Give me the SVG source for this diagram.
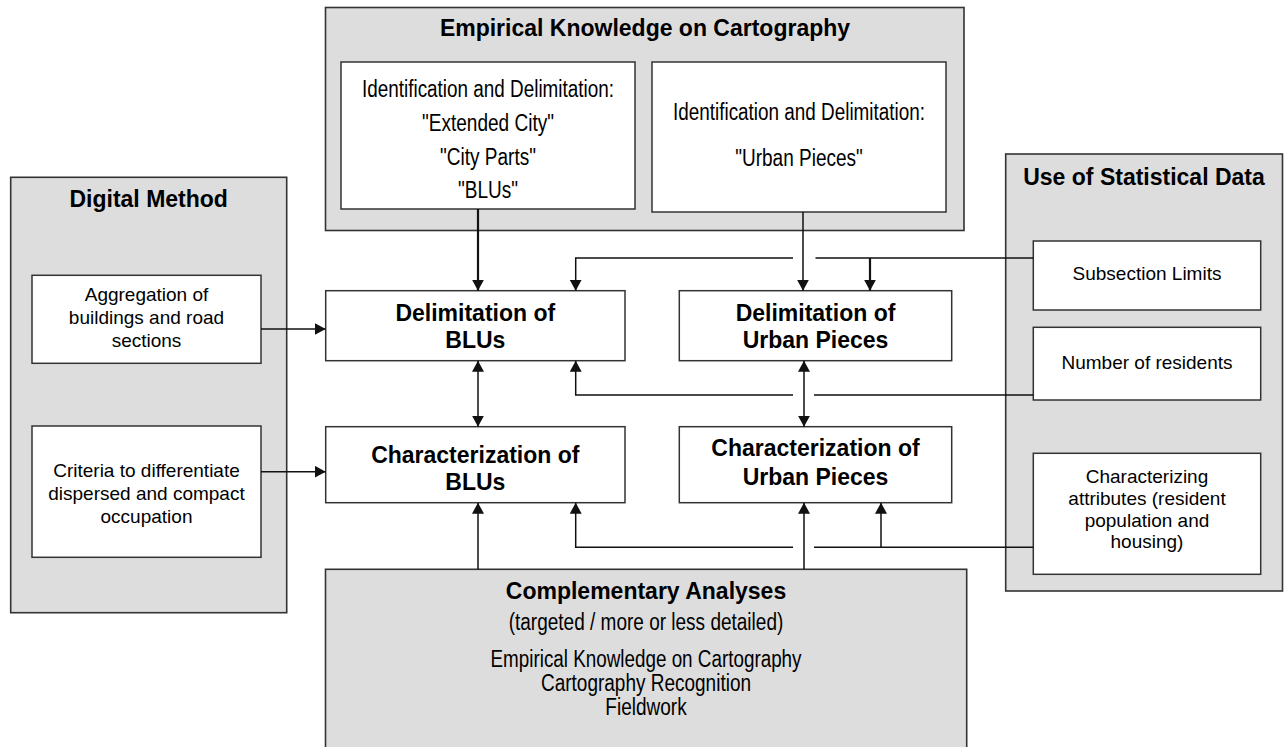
<svg xmlns="http://www.w3.org/2000/svg" width="1284" height="747" viewBox="0 0 1284 747">
<style>
  .gray{fill:#dddddd;stroke:#333;stroke-width:1.6}
  .box{fill:#ffffff;stroke:#333;stroke-width:1.5}
  text{font-family:"Liberation Sans",Arial,sans-serif;fill:#000;text-anchor:middle}
  .b{font-weight:bold;font-size:23px}
  .r{font-size:19px}
  .c{font-size:23px}
  .conn{fill:none;stroke:#111;stroke-width:1.5}
  .thick{stroke-width:2.2}
</style>
<defs>
  <marker id="ah" markerUnits="userSpaceOnUse" markerWidth="12" markerHeight="12" refX="11" refY="6" orient="auto-start-reverse" viewBox="0 0 12 12">
    <path d="M0,0 L11,6 L0,12 z" fill="#111"/>
  </marker>
</defs>
<rect width="1284" height="747" fill="#ffffff"/>

<g id="empirical">
  <rect class="gray" x="325.5" y="7.5" width="638.5" height="223"/>
  <text class="b" x="645" y="36">Empirical Knowledge on Cartography</text>
</g>
<g id="id-blus">
  <rect class="box" x="341" y="62" width="294" height="147"/>
  <text class="c" x="488" y="97" textLength="252" lengthAdjust="spacingAndGlyphs">Identification and Delimitation:</text>
  <text class="c" x="488" y="131" textLength="132" lengthAdjust="spacingAndGlyphs">"Extended City"</text>
  <text class="c" x="488" y="165" textLength="96" lengthAdjust="spacingAndGlyphs">"City Parts"</text>
  <text class="c" x="488" y="198" textLength="60" lengthAdjust="spacingAndGlyphs">"BLUs"</text>
</g>
<g id="id-urban">
  <rect class="box" x="652" y="62" width="294" height="150"/>
  <text class="c" x="799" y="120" textLength="252" lengthAdjust="spacingAndGlyphs">Identification and Delimitation:</text>
  <text class="c" x="799" y="166" textLength="127.5" lengthAdjust="spacingAndGlyphs">"Urban Pieces"</text>
</g>

<g id="digital">
  <rect class="gray" x="10.7" y="177.3" width="276" height="435.4"/>
  <text class="b" x="148.7" y="207">Digital Method</text>
</g>
<g id="aggregation">
  <rect class="box" x="32" y="275.3" width="229" height="88"/>
  <text class="r" x="146.5" y="301">Aggregation of</text>
  <text class="r" x="146.5" y="324">buildings and road</text>
  <text class="r" x="146.5" y="347">sections</text>
</g>
<g id="criteria">
  <rect class="box" x="32" y="426" width="229" height="131.3"/>
  <text class="r" x="146.5" y="477">Criteria to differentiate</text>
  <text class="r" x="146.5" y="500">dispersed and compact</text>
  <text class="r" x="146.5" y="523">occupation</text>
</g>

<g id="statistical">
  <rect class="gray" x="1005.7" y="154" width="276.8" height="437"/>
  <text class="b" x="1144" y="184.5">Use of Statistical Data</text>
</g>
<g id="subsection">
  <rect class="box" x="1033.3" y="241" width="227.4" height="69"/>
  <text class="r" x="1147" y="280">Subsection Limits</text>
</g>
<g id="residents">
  <rect class="box" x="1033.3" y="327.3" width="227.4" height="72.7"/>
  <text class="r" x="1147" y="369.3">Number of residents</text>
</g>
<g id="attributes">
  <rect class="box" x="1033.3" y="453.3" width="227.4" height="121"/>
  <text class="r" x="1147" y="482.7">Characterizing</text>
  <text class="r" x="1147" y="504.6">attributes (resident</text>
  <text class="r" x="1147" y="526.5">population and</text>
  <text class="r" x="1147" y="548.3">housing)</text>
</g>

<g id="delim-blus">
  <rect class="box" x="325.7" y="290.7" width="299.3" height="70"/>
  <text class="b" x="475.3" y="320.7">Delimitation of</text>
  <text class="b" x="475.3" y="348">BLUs</text>
</g>
<g id="delim-urban">
  <rect class="box" x="679.3" y="290.7" width="272.4" height="70"/>
  <text class="b" x="815.5" y="320.7">Delimitation of</text>
  <text class="b" x="815.5" y="348">Urban Pieces</text>
</g>
<g id="char-blus">
  <rect class="box" x="325.7" y="426.7" width="299.3" height="76"/>
  <text class="b" x="475.3" y="463.3">Characterization of</text>
  <text class="b" x="475.3" y="490">BLUs</text>
</g>
<g id="char-urban">
  <rect class="box" x="679.3" y="426.7" width="272.4" height="76"/>
  <text class="b" x="815.5" y="456">Characterization of</text>
  <text class="b" x="815.5" y="485">Urban Pieces</text>
</g>

<g id="complementary">
  <rect class="gray" x="325.5" y="569.3" width="641.2" height="190"/>
  <text class="b" x="646" y="599">Complementary Analyses</text>
  <text class="c" x="646" y="630" textLength="274.6" lengthAdjust="spacingAndGlyphs">(targeted / more or less detailed)</text>
  <text class="c" x="646" y="667" textLength="311" lengthAdjust="spacingAndGlyphs">Empirical Knowledge on Cartography</text>
  <text class="c" x="646" y="691" textLength="210" lengthAdjust="spacingAndGlyphs">Cartography Recognition</text>
  <text class="c" x="646" y="714.5" textLength="81.3" lengthAdjust="spacingAndGlyphs">Fieldwork</text>
</g>

<g id="connectors">
  <path class="conn thick" d="M478,209 V290.7" marker-end="url(#ah)"/>
  <path class="conn" d="M803,212 V290.7" marker-end="url(#ah)"/>
  <path class="conn" d="M1033.3,258 H815.5 M793,258 H575.7 V290.7" marker-end="url(#ah)"/>
  <path class="conn thick" d="M870,258 V290.7" marker-end="url(#ah)"/>
  <path class="conn" d="M1033.3,395 H814 M793,395 H575.7 V360.7" marker-end="url(#ah)"/>
  <path class="conn" d="M1033.3,547.3 H814 M793,547.3 H575.7 V502.7" marker-end="url(#ah)"/>
  <path class="conn" d="M881,547.3 V502.7" marker-end="url(#ah)"/>
  <path class="conn" d="M478,360.7 V426.7" marker-start="url(#ah)" marker-end="url(#ah)"/>
  <path class="conn" d="M804,360.7 V426.7" marker-start="url(#ah)" marker-end="url(#ah)"/>
  <path class="conn" d="M478,569.3 V502.7" marker-end="url(#ah)"/>
  <path class="conn" d="M804,569.3 V502.7" marker-end="url(#ah)"/>
  <path class="conn" d="M261,329 H325.7" marker-end="url(#ah)"/>
  <path class="conn" d="M261,471.7 H325.7" marker-end="url(#ah)"/>
</g>
</svg>
